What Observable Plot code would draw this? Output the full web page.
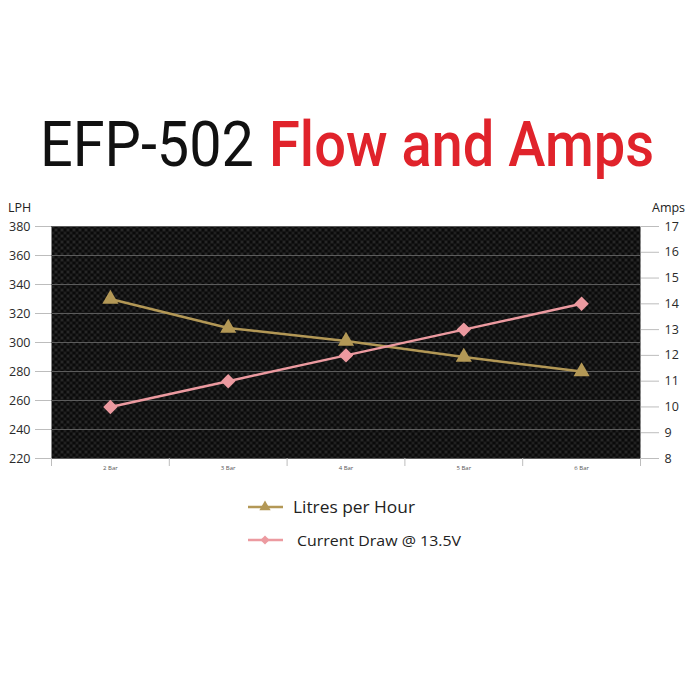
<!DOCTYPE html>
<html>
<head>
<meta charset="utf-8">
<script src="https://cdn.jsdelivr.net/npm/d3@7"></script>
<script src="https://cdn.jsdelivr.net/npm/@observablehq/plot@0.6"></script>
<style>
  body { margin: 0; background: #fff; }
  #wrap { position: relative; width: 691px; height: 691px; overflow: hidden; background: #fff; }
  #wrap > svg.overlay { position: absolute; left: 0; top: 0; pointer-events: none; }
  #chart { position: absolute; left: 0; top: 0; }
</style>
</head>
<body>
<svg width="0" height="0" style="position:absolute">
  <defs>
    <pattern id="carbon" width="6" height="6" patternUnits="userSpaceOnUse">
      <rect width="6" height="6" fill="#0a0a0a"/>
      <rect x="0" y="0" width="3" height="3" fill="#242424"/>
      <rect x="3" y="3" width="3" height="3" fill="#1c1c1c"/>
      <rect x="1" y="1" width="1" height="1" fill="#303030"/>
      <rect x="4" y="4" width="1" height="1" fill="#2a2a2a"/>
    </pattern>
  </defs>
</svg>
<div id="wrap">
  <div id="chart"></div>
  <svg class="overlay" width="691" height="691">
    <text transform="translate(40,166) scale(1,1.09)" x="0" y="0" textLength="214" lengthAdjust="spacingAndGlyphs"
      font-family="Roboto" font-size="57" font-weight="400" fill="#111">EFP-502</text>
    <text transform="translate(269,166) scale(1,1.15)" x="0" y="0" textLength="385" lengthAdjust="spacingAndGlyphs"
      font-family="Roboto" font-size="54" font-weight="500" fill="#e0232b">Flow and Amps</text>
    <text x="8" y="212" font-family="'Open Sans'" font-size="12.5" fill="#222">LPH</text>
    <text x="652" y="212" font-family="'Open Sans'" font-size="12.5" fill="#222">Amps</text>
    <g id="legend"></g>
  </svg>
</div>
<script>
const categories = ["2 Bar", "3 Bar", "4 Bar", "5 Bar", "6 Bar"];
const litresPerHour = [330, 310, 301, 290, 280];
const currentDraw = [10, 11, 12, 13, 14];
const lphTicks = [220, 240, 260, 280, 300, 320, 340, 360, 380];
const ampTicks = [8, 9, 10, 11, 12, 13, 14, 15, 16, 17];
const seriesNames = ["Litres per Hour", "Current Draw @ 13.5V"];
const seriesColors = ["#b39856", "#ec9aa0"];

// map amps onto the LPH scale (dual axis)
const ampsToLph = a => 220 + (a - 8) * (380 - 220) / (17 - 8);
const lphToAmps = v => 8 + (v - 220) * (17 - 8) / (380 - 220);

const lphData = categories.map((c, i) => ({cat: c, x: i + 1, y: litresPerHour[i]}));
const ampData = categories.map((c, i) => ({cat: c, x: i + 1, y: ampsToLph(currentDraw[i])}));
const centers = categories.map((c, i) => i + 1);
const bounds = d3.range(categories.length + 1).map(i => i + 0.5);

const chart = Plot.plot({
  width: 691,
  height: 691,
  marginTop: 226,
  marginBottom: 233,
  marginLeft: 51,
  marginRight: 51,
  style: {fontFamily: "'Open Sans', sans-serif", background: "transparent"},
  x: {domain: [0.5, categories.length + 0.5]},
  y: {domain: [220, 380]},
  marks: [
    Plot.frame({fill: "url(#carbon)", stroke: null}),
    Plot.gridY({ticks: lphTicks, stroke: "#5c5c5c", strokeOpacity: 1, strokeWidth: 1}),
    Plot.axisY({anchor: "left", ticks: lphTicks, tickSize: 16, tickPadding: 5, label: null,
      stroke: "#bdbdbd", fill: "#2a2a2a", fontSize: 12.5}),
    Plot.axisY({anchor: "right", ticks: ampTicks.map(ampsToLph), tickFormat: v => Math.round(lphToAmps(v)),
      tickSize: 18, tickPadding: 6, label: null, stroke: "#bdbdbd", fill: "#2a2a2a", fontSize: 12.5}),
    Plot.axisX({ticks: bounds, tickSize: 8, tickFormat: () => "", label: null, stroke: "#bdbdbd"}),
    Plot.axisX({ticks: centers, tickSize: 0, tickPadding: 7, tickFormat: v => categories[v - 1],
      label: null, fill: "#555", fontSize: 6}),
    Plot.line(lphData, {x: "x", y: "y", stroke: seriesColors[0], strokeWidth: 2.5}),
    Plot.line(ampData, {x: "x", y: "y", stroke: seriesColors[1], strokeWidth: 2.5}),
    Plot.dot(lphData, {x: "x", y: "y", symbol: "triangle", r: 6, fill: seriesColors[0], stroke: null}),
    Plot.dot(ampData, {x: "x", y: "y", symbol: "diamond2", r: 6.5, fill: seriesColors[1], stroke: null})
  ]
});
document.getElementById("chart").appendChild(chart);

// legend
const leg = d3.select("#legend");
const legRows = [
  {y: 507, sym: d3.symbolTriangle, size: 55, textX: 293, len: 122, fs: 16},
  {y: 540, sym: d3.symbolSquare, size: 42, textX: 297, len: 164, fs: 15, rot: 45}
];
legRows.forEach((r, i) => {
  const g = leg.append("g");
  g.append("line").attr("x1", 248).attr("x2", 283).attr("y1", r.y).attr("y2", r.y)
    .attr("stroke", seriesColors[i]).attr("stroke-width", 2.5);
  g.append("path").attr("d", d3.symbol(r.sym, r.size)())
    .attr("transform", `translate(265,${r.y})` + (r.rot ? ` rotate(${r.rot})` : ""))
    .attr("fill", seriesColors[i]);
  g.append("text").attr("x", r.textX).attr("y", r.y + 6)
    .attr("font-family", "'Open Sans'").attr("font-size", r.fs).attr("fill", "#222")
    .attr("textLength", r.len).attr("lengthAdjust", "spacingAndGlyphs")
    .text(seriesNames[i]);
});
</script>
</body>
</html>
